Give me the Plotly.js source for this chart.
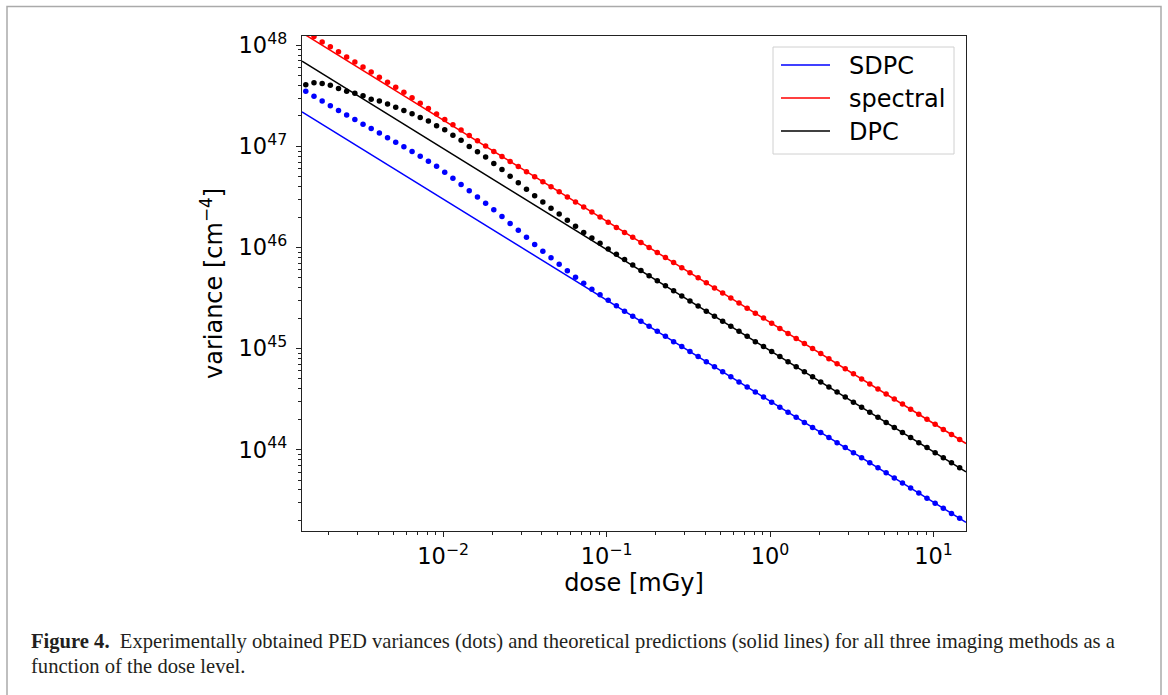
<!DOCTYPE html>
<html><head><meta charset="utf-8">
<script src="https://cdn.plot.ly/plotly-3.0.1.min.js"></script>
<style>html,body{margin:0;padding:0;background:#fff;} #chart{width:1168px;height:695px;}</style>
</head><body><div id="chart"></div>
<script>
// ---- data ----
const seriesNames = ['SDPC', 'spectral', 'DPC'];
const seriesColors = ['#0000ff', '#ff0000', '#000000'];

const dose = [
  1.445e-3,1.622e-3,1.820e-3,2.042e-3,2.291e-3,2.570e-3,2.884e-3,3.236e-3,3.631e-3,4.074e-3,4.571e-3,5.129e-3,5.754e-3,6.457e-3,7.244e-3,8.128e-3,9.120e-3,
  1.023e-2,1.148e-2,1.288e-2,1.445e-2,1.622e-2,1.820e-2,2.042e-2,2.291e-2,2.570e-2,2.884e-2,3.236e-2,3.631e-2,4.074e-2,4.571e-2,5.129e-2,5.754e-2,6.457e-2,7.244e-2,8.128e-2,9.120e-2,
  1.023e-1,1.148e-1,1.288e-1,1.445e-1,1.622e-1,1.820e-1,2.042e-1,2.291e-1,2.570e-1,2.884e-1,3.236e-1,3.631e-1,4.074e-1,4.571e-1,5.129e-1,5.754e-1,6.457e-1,7.244e-1,8.128e-1,9.120e-1,
  1.023,1.148,1.288,1.445,1.622,1.820,2.042,2.291,2.570,2.884,3.236,3.631,4.074,4.571,5.129,5.754,6.457,7.244,8.128,9.120,
  10.23,11.48,12.88,14.45
];

const sdpcDots = [
  3.52e47,3.13e47,2.81e47,2.52e47,2.27e47,2.04e47,1.84e47,1.66e47,1.50e47,1.36e47,1.22e47,1.10e47,
  9.91e46,8.91e46,8.00e46,7.14e46,6.35e46,5.56e46,4.84e46,4.20e46,3.63e46,3.16e46,2.74e46,2.36e46,2.02e46,1.73e46,1.48e46,1.26e46,1.07e46,
  9.18e45,7.91e45,6.81e45,5.89e45,5.07e45,4.42e45,3.87e45,3.40e45,3.00e45,2.65e45,2.34e45,2.09e45,1.86e45,1.66e45,1.48e45,1.32e45,1.17e45,1.05e45,
  9.33e44,8.32e44,7.41e44,6.61e44,5.89e44,5.25e44,4.68e44,4.17e44,3.72e44,3.31e44,2.95e44,2.63e44,2.34e44,2.09e44,1.86e44,1.66e44,1.48e44,1.32e44,1.17e44,1.05e44,
  9.33e43,8.32e43,7.41e43,6.61e43,5.89e43,5.25e43,4.68e43,4.17e43,3.72e43,3.31e43,2.95e43,2.63e43,2.34e43,2.09e43
];

const spectralDots = [
  1.36e48,1.22e48,1.08e48,9.66e47,8.61e47,7.67e47,6.84e47,6.10e47,5.43e47,4.84e47,4.32e47,3.85e47,3.43e47,3.02e47,2.67e47,2.37e47,2.09e47,1.85e47,1.64e47,1.45e47,1.28e47,1.14e47,1.01e47,
  8.91e46,7.94e46,7.08e46,6.31e46,5.62e46,5.01e46,4.47e46,3.98e46,3.55e46,3.16e46,2.82e46,2.51e46,2.24e46,2.00e46,1.78e46,1.58e46,1.41e46,1.26e46,1.12e46,1.00e46,
  8.91e45,7.94e45,7.08e45,6.31e45,5.62e45,5.01e45,4.47e45,3.98e45,3.55e45,3.16e45,2.82e45,2.51e45,2.24e45,2.00e45,1.78e45,1.58e45,1.41e45,1.26e45,1.12e45,1.00e45,
  8.91e44,7.94e44,7.08e44,6.31e44,5.62e44,5.01e44,4.47e44,3.98e44,3.55e44,3.16e44,2.82e44,2.51e44,2.24e44,2.00e44,1.78e44,1.58e44,1.41e44,1.26e44
];

const dpcDots = [
  4.07e47,4.25e47,4.19e47,4.03e47,3.73e47,3.52e47,3.36e47,3.16e47,2.93e47,2.81e47,2.63e47,2.44e47,2.27e47,2.10e47,1.93e47,1.78e47,1.60e47,1.46e47,1.29e47,1.15e47,1.00e47,
  8.83e46,7.83e46,6.79e46,5.92e46,5.07e46,4.37e46,3.76e46,3.24e46,2.82e46,2.45e46,2.14e46,1.86e46,1.62e46,1.41e46,1.24e46,1.10e46,
  9.66e45,8.57e45,7.59e45,6.71e45,5.92e45,5.25e45,4.68e45,4.17e45,3.72e45,3.31e45,2.95e45,2.63e45,2.34e45,2.09e45,1.86e45,1.66e45,1.48e45,1.32e45,1.17e45,1.05e45,
  9.33e44,8.32e44,7.41e44,6.61e44,5.89e44,5.25e44,4.68e44,4.17e44,3.72e44,3.31e44,2.95e44,2.63e44,2.34e44,2.09e44,1.86e44,1.66e44,1.48e44,1.32e44,1.17e44,1.05e44,
  9.33e43,8.32e43,7.41e43,6.61e43
];

// theoretical predictions (straight lines in log-log), end points
const lineDose = [1.37e-3, 15.8];
const sdpcLine = [2.20e47, 1.91e43];
const spectralLine = [1.33e48, 1.15e44];
const dpcLine = [6.97e47, 6.04e43];

const xTickVals = [0.01, 0.1, 1, 10];
const xTickText = ['10<sup>−2</sup>', '10<sup>−1</sup>', '10<sup>0</sup>', '10<sup>1</sup>'];
const yTickVals = [1e44, 1e45, 1e46, 1e47, 1e48];
const yTickText = ['10<sup>44</sup>', '10<sup>45</sup>', '10<sup>46</sup>', '10<sup>47</sup>', '10<sup>48</sup>'];

const xTitle = 'dose [mGy]';
const yTitle = 'variance [cm<sup>−4</sup>]';
const captionLine1 = '<b>Figure 4.</b>  Experimentally obtained PED variances (dots) and theoretical predictions (solid lines) for all three imaging methods as a';
const captionLine2 = 'function of the dose level.';

// ---- layout geometry ----
const W = 1168, H = 695;
const PL = 302, PT = 36, PW = 664, PH = 495;
const px = x => (x - PL) / PW;
const py = y => (PT + PH - y) / PH;

const lineSets = [sdpcLine, spectralLine, dpcLine];
const dotSets = [sdpcDots, spectralDots, dpcDots];

const traces = [];
for (let i = 0; i < 3; i++) {
  traces.push({
    x: lineDose, y: lineSets[i], type: 'scatter', mode: 'lines',
    line: {color: seriesColors[i], width: 1.5}, name: seriesNames[i], showlegend: false, hoverinfo: 'skip'
  });
}
for (let i = 0; i < 3; i++) {
  traces.push({
    x: dose, y: dotSets[i], type: 'scatter', mode: 'markers',
    marker: {color: seriesColors[i], size: 5.5}, name: seriesNames[i] + ' dots', showlegend: false, hoverinfo: 'skip'
  });
}

const tickFont = {family: 'DejaVu Sans', size: 22.5, color: '#000'};
const titleFont = {family: 'DejaVu Sans', size: 24, color: '#000'};
const shapes = [];
const annotations = [];

// outer figure frame
shapes.push({type: 'rect', xref: 'paper', yref: 'paper', x0: px(7), x1: px(1161), y0: py(6.5), y1: py(720),
  line: {color: '#aaaaaa', width: 1.5}, fillcolor: 'rgba(0,0,0,0)', layer: 'below'});

// legend box
shapes.push({type: 'rect', xref: 'paper', yref: 'paper', x0: px(773), x1: px(954), y0: py(47), y1: py(154),
  line: {color: '#d0d0d0', width: 1}, fillcolor: 'rgba(255,255,255,0.8)', layer: 'above'});
const legendRows = [65, 98, 131];
for (let i = 0; i < 3; i++) {
  shapes.push({type: 'line', xref: 'paper', yref: 'paper', x0: px(781), x1: px(830), y0: py(legendRows[i]), y1: py(legendRows[i]),
    line: {color: seriesColors[i], width: 1.5}, layer: 'above'});
  annotations.push({xref: 'paper', yref: 'paper', x: px(847), y: py(legendRows[i] + 1), xanchor: 'left', yanchor: 'middle',
    text: seriesNames[i], showarrow: false, font: titleFont});
}

// caption
const capFont = {family: 'Liberation Serif', size: 20.6, color: '#231f20'};
annotations.push({xref: 'paper', yref: 'paper', x: px(29), y: py(641), xanchor: 'left', yanchor: 'middle',
  text: captionLine1, showarrow: false, font: capFont});
annotations.push({xref: 'paper', yref: 'paper', x: px(29), y: py(666), xanchor: 'left', yanchor: 'middle',
  text: captionLine2, showarrow: false, font: capFont});

const axCommon = {
  type: 'log', showgrid: false, zeroline: false, showline: true, mirror: true,
  linecolor: '#222', linewidth: 1.3, ticks: 'outside', ticklen: 5, tickwidth: 1, tickcolor: '#222',
  tickmode: 'array', tickfont: tickFont,
  minor: {ticks: 'outside', ticklen: 3, tickwidth: 1, tickcolor: '#222', dtick: 'D1', showgrid: false}
};

const layout = {
  width: W, height: H,
  margin: {l: PL, r: W - PL - PW, t: PT, b: H - PT - PH, pad: 0},
  paper_bgcolor: '#fff', plot_bgcolor: '#fff',
  font: {family: 'DejaVu Sans', color: '#000'},
  showlegend: false,
  xaxis: Object.assign({}, axCommon, {
    range: [Math.log10(lineDose[0]), Math.log10(lineDose[1])],
    tickvals: xTickVals, ticktext: xTickText,
    title: {text: xTitle, font: titleFont, standoff: 6}
  }),
  yaxis: Object.assign({}, axCommon, {
    range: [43.195, 48.092],
    tickvals: yTickVals, ticktext: yTickText, ticklabelstandoff: 4,
    title: {text: yTitle, font: titleFont, standoff: 9}
  }),
  shapes: shapes,
  annotations: annotations
};

Plotly.newPlot('chart', traces, layout, {staticPlot: true, displayModeBar: false});
</script>
</body></html>
